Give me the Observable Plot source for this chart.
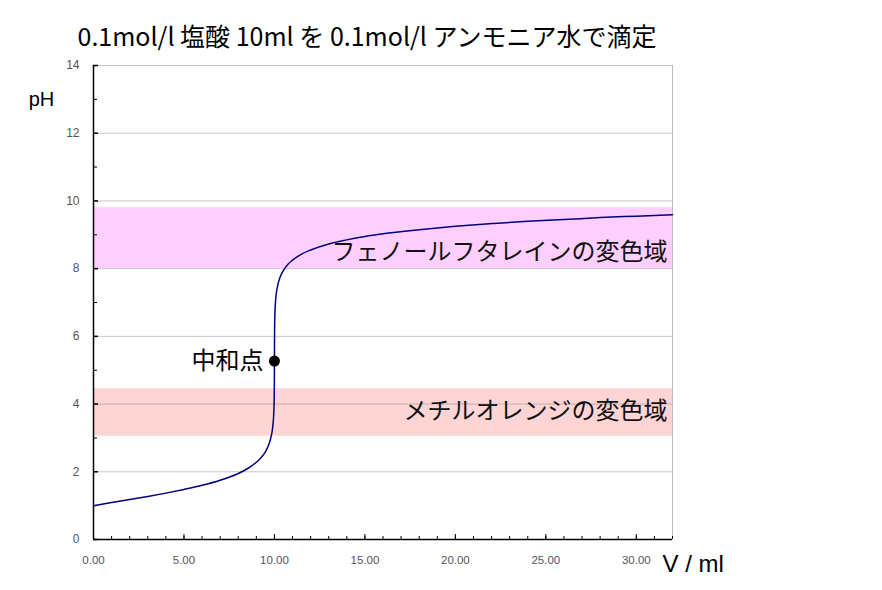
<!DOCTYPE html>
<html>
<head>
<meta charset="utf-8">
<script src="https://cdn.jsdelivr.net/npm/d3@7"></script>
<script src="https://cdn.jsdelivr.net/npm/@observablehq/plot@0.6"></script>
<style>
  html, body { margin: 0; padding: 0; background: #fff; }
  #chart { width: 882px; height: 590px; }
</style>
</head>
<body>
<div id="chart"></div>
<script>
// ---- data ----
const titleText = "0.1mol/l 塩酸 10ml を 0.1mol/l アンモニア水で滴定";
const yLabelText = "pH";
const xLabelText = "V / ml";
const neutralLabel = "中和点";

// titration curve (V in ml, pH)
const volumes = [0, 1, 2, 3, 4, 5, 6, 7, 8, 8.5, 9, 9.3, 9.5, 9.7, 9.8, 9.9, 9.95, 9.98, 9.995,
  10, 10.005, 10.02, 10.05, 10.1, 10.2, 10.3, 10.5, 10.75, 11, 11.5, 12, 13, 14, 15, 16, 18, 20, 22, 24, 26, 28, 30, 32];
const phValues = [1.00, 1.09, 1.18, 1.27, 1.37, 1.48, 1.60, 1.75, 1.95, 2.09, 2.28, 2.44, 2.59, 2.82, 3.00, 3.30, 3.60, 4.00, 4.60,
  5.27, 5.95, 6.55, 6.95, 7.25, 7.55, 7.73, 7.95, 8.13, 8.25, 8.43, 8.55, 8.73, 8.85, 8.95, 9.03, 9.15, 9.25, 9.33, 9.40, 9.45, 9.51, 9.55, 9.59];

// neutralization point
const neutralV = [10];
const neutralPH = [5.27];

// indicator transition ranges
const bandNames = ["フェノールフタレインの変色域", "メチルオレンジの変色域"];
const bandLow = [8.0, 3.05];
const bandHigh = [9.8, 4.45];

// ticks
const xTickValues = [0, 5, 10, 15, 20, 25, 30];
const xMinorTicks = d3.range(0, 33, 1);
const yTickValues = [0, 2, 4, 6, 8, 10, 12, 14];
const yMinorTicks = d3.range(1, 14, 2);

// ---- build ----
const curve = volumes.map((v, i) => ({V: v, pH: phValues[i]}));
const bands = bandNames.map((n, i) => ({name: n, lo: bandLow[i], hi: bandHigh[i]}));
const neutral = neutralV.map((v, i) => ({V: v, pH: neutralPH[i]}));

const W = 882, H = 590;
const mL = 93, mR = 210, mT = 65, mB = 51;
const fw = W - mL - mR, fh = H - mT - mB;
const cjk = "'Noto Sans CJK JP', 'Noto Sans CJK SC', sans-serif";
const latin = "'Liberation Sans', Arial, sans-serif";
const bandColors = ["#ffd0ff", "#ffd4d4"];

const chart = Plot.plot({
  width: W, height: H,
  marginLeft: mL, marginRight: mR, marginTop: mT, marginBottom: mB,
  style: {fontFamily: cjk, background: "#fff", overflow: "visible"},
  x: {domain: [0, 32]},
  y: {domain: [0, 14]},
  marks: [
    Plot.rect(bands, {y1: "lo", y2: "hi", fill: (d, i) => bandColors[i]}),
    Plot.ruleY(yTickValues.filter(d => d > 0), {stroke: "#808080", strokeOpacity: 0.45}),
    Plot.ruleX([32], {stroke: "#bbb"}),
    Plot.tickY(yTickValues, {insetRight: fw - 5, stroke: "#000", strokeWidth: 1.5}),
    Plot.tickY(yMinorTicks, {insetRight: fw - 4, stroke: "#000"}),
    Plot.tickX(xMinorTicks, {insetTop: fh - 3, stroke: "#000"}),
    Plot.tickX(xTickValues, {insetTop: fh - 5, stroke: "#000"}),
    Plot.ruleX([0], {stroke: "#000", strokeWidth: 1.5}),
    Plot.ruleY([0], {stroke: "#000", strokeWidth: 1.5}),
    Plot.axisY({ticks: yTickValues, tickSize: 0, tickPadding: 14, label: null, fontSize: 12, fontFamily: latin, color: "#555"}),
    Plot.axisX({ticks: xTickValues, tickSize: 0, tickPadding: 16, label: null, fontSize: 11.5, fontFamily: latin, color: "#555", tickFormat: d => d.toFixed(2)}),
    Plot.line(curve, {x: "V", y: "pH", stroke: "#000080", strokeWidth: 1.5, curve: "monotone-x"}),
    Plot.dot(neutral, {x: "V", y: "pH", r: 5.5, fill: "#000", stroke: "none"}),
    Plot.text(neutral, {x: "V", y: "pH", text: () => neutralLabel, textAnchor: "end", dx: -11, fontSize: 24, fill: "#000"}),
    Plot.text(bands.slice(0, 1), {x: 32, y: d => (d.lo + d.hi) / 2, text: "name", textAnchor: "end", dx: -5, dy: 14, fontSize: 24, fill: "#111"}),
    Plot.text(bands.slice(1, 2), {x: 32, y: d => (d.lo + d.hi) / 2, text: "name", textAnchor: "end", dx: -5, dy: -1, fontSize: 24, fill: "#111"}),
    Plot.text([titleText], {frameAnchor: "top-left", textAnchor: "start", lineAnchor: "middle", dx: -16, dy: -28, fontSize: 25, fill: "#000", text: d => d}),
    Plot.text([yLabelText], {frameAnchor: "top-left", textAnchor: "middle", lineAnchor: "middle", dx: -52, dy: 34, fontSize: 20, fontFamily: latin, fill: "#000", text: d => d}),
    Plot.text([xLabelText], {frameAnchor: "bottom-right", textAnchor: "start", lineAnchor: "middle", dx: -10, dy: 25, fontSize: 24, fontFamily: latin, fill: "#000", text: d => d})
  ]
});
document.getElementById("chart").appendChild(chart);
</script>
</body>
</html>
